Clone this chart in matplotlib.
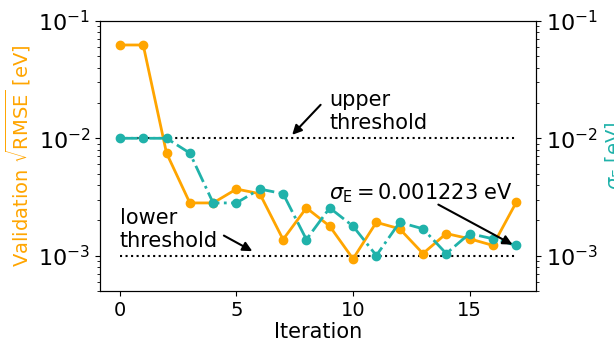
import matplotlib
matplotlib.use("Agg")
import matplotlib.pyplot as plt

# values
iterations = list(range(18))
val_rmse = [0.0625, 0.0625, 0.00748, 0.00281, 0.00281, 0.00369, 0.00337, 0.00137, 0.00255,
            0.00178, 0.000937, 0.00192, 0.00169, 0.00104, 0.00154, 0.00139, 0.00122, 0.00284]
sigma_e = [0.01, 0.01, 0.01, 0.00748, 0.00281, 0.00281, 0.00369, 0.00337, 0.00137,
           0.00255, 0.00178, 0.001, 0.00192, 0.00169, 0.00104, 0.00154, 0.00139, 0.00122]
upper_thr = 0.01
lower_thr = 0.001
sigma_final = 0.001223

orange = "orange"
teal = "lightseagreen"

fig = plt.figure(figsize=(6.14, 3.45), dpi=100)
ax = fig.add_axes([0.163, 0.157, 0.710, 0.782])
ax2 = ax.twinx()

ax.plot(iterations, val_rmse, marker="o", ms=6, lw=2, color=orange, zorder=3)
ax2.plot(iterations, sigma_e, marker="o", ms=6, lw=2, ls="-.", color=teal, zorder=3)

ax.hlines([upper_thr, lower_thr], iterations[0], iterations[-1], colors="black",
          linestyles=":", lw=1.5, zorder=1)

for a in (ax, ax2):
    a.set_yscale("log")
    a.set_ylim(5e-4, 1e-1)
    a.tick_params(axis="y", which="major", labelsize=16)

ax.tick_params(axis="x", labelsize=14)
ax.set_xlabel("Iteration", fontsize=15, labelpad=2)
ax.set_ylabel(r"Validation $\sqrt{\mathrm{RMSE}}$ [eV]", fontsize=14, color=orange)
ax2.set_ylabel(r"$\sigma_\mathrm{E}$ [eV]", fontsize=14, color=teal)

# labels and arrows drawn separately so the arrows start where the reference's do
arrow = dict(arrowstyle="-|>", color="black", lw=1.5, mutation_scale=14,
             shrinkA=0, shrinkB=0)
ax.text(9.0, 0.0168, "upper\nthreshold", fontsize=15, ha="left", va="center")
ax.annotate("", xy=(7.39, 0.0107), xytext=(8.61, 0.0193), arrowprops=arrow)
ax.text(0.0, 0.00166, "lower\nthreshold", fontsize=15, ha="left", va="center")
ax.annotate("", xy=(5.68, 0.00109), xytext=(4.46, 0.00148), arrowprops=arrow)
ax2.text(8.95, 0.00337, r"$\sigma_\mathrm{E} = 0.001223$ eV", fontsize=15,
         ha="left", va="center")
ax2.annotate("", xy=(16.84, 0.00124), xytext=(13.66, 0.00272), arrowprops=arrow)

fig.savefig("out.png", dpi=100)
